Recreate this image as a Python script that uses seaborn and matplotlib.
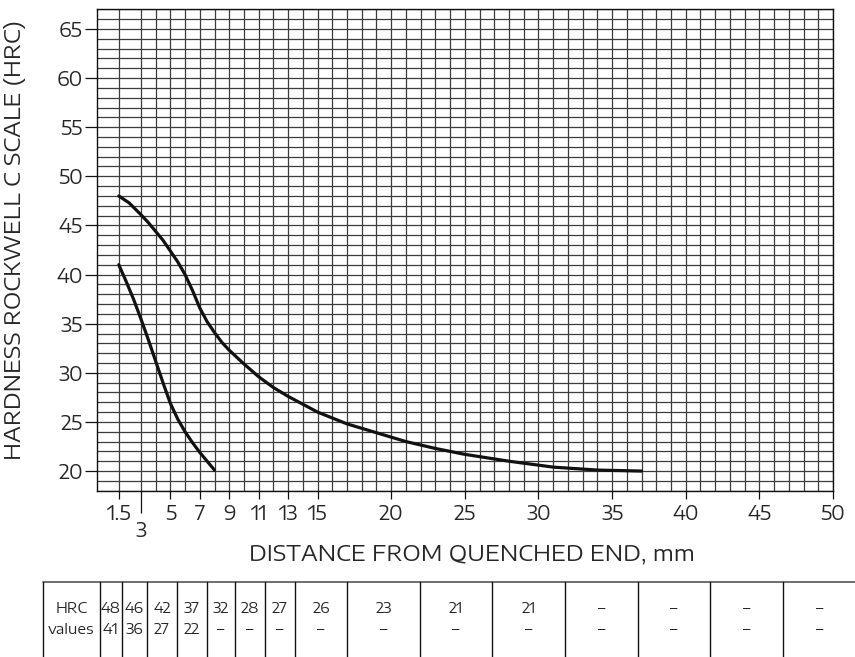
import numpy as np
import pandas as pd
import matplotlib
matplotlib.use("Agg")
import matplotlib.pyplot as plt
import seaborn as sns

# ---------------- data ----------------
upper_dist = [1.5, 2.2, 3, 3.5, 4, 4.5, 5, 5.5, 6, 6.5, 7, 7.5, 8, 8.5, 9, 10, 11, 12, 13, 15, 17, 19, 21, 23, 25, 28, 31, 34, 37]
upper_hrc = [48.0, 47.3, 46.1, 45.3, 44.4, 43.5, 42.4, 41.3, 40.0, 38.4, 36.6, 35.2, 34.1, 33.1, 32.3, 30.9, 29.6, 28.5, 27.6, 26.0, 24.8, 23.9, 23.0, 22.3, 21.7, 21.0, 20.4, 20.1, 20.0]
lower_dist = [1.5, 2.0, 2.5, 3, 3.5, 4, 4.5, 5, 5.5, 6, 6.5, 7, 7.5, 8]
lower_hrc = [41.0, 39.3, 37.5, 35.5, 33.4, 31.2, 29.0, 26.9, 25.3, 24.0, 22.9, 21.9, 21.0, 20.1]

xtick_vals = [1.5, 3, 5, 7, 9, 11, 13, 15, 20, 25, 30, 35, 40, 45, 50]
xtick_labels = ["1.5", "3", "5", "7", "9", "11", "13", "15", "20", "25", "30", "35", "40", "45", "50"]
ytick_vals = [20, 25, 30, 35, 40, 45, 50, 55, 60, 65]

table_max = ["48", "46", "42", "37", "32", "28", "27", "26", "23", "21", "21", "–", "–", "–", "–"]
table_min = ["41", "36", "27", "22", "–", "–", "–", "–", "–", "–", "–", "–", "–", "–", "–"]

# ---------------- style ----------------
sns.set_theme(style="white")
plt.rcParams["font.family"] = ["Encode Sans Expanded", "DejaVu Sans"]
plt.rcParams["font.weight"] = "normal"
TXT = "#262626"
GRID = "#3c3c3c"

W, H = 855, 657
fig = plt.figure(figsize=(W / 100, H / 100), dpi=100)
x0, x1 = 96.7, 833.0
ytop, ybot = 9.3, 490.7
ax = fig.add_axes([x0 / W, 1 - ybot / H, (x1 - x0) / W, (ybot - ytop) / H])

df = pd.concat([
    pd.DataFrame({"dist": upper_dist, "hrc": upper_hrc, "curve": "max"}),
    pd.DataFrame({"dist": lower_dist, "hrc": lower_hrc, "curve": "min"}),
])
sns.lineplot(data=df, x="dist", y="hrc", units="curve", estimator=None, sort=False,
             color="#111111", lw=2.3, ax=ax, zorder=5)
for l in ax.lines:
    l.set_solid_joinstyle("round")

ax.set_xlim(0, 50)
ax.set_ylim(18, 67)

# grid
ax.set_xticks([1.5] + list(range(3, 51)), minor=True)
ax.set_yticks(list(range(18, 68)), minor=True)
ax.set_xticks(xtick_vals)
ax.set_xticklabels(["" if l == "3" else l for l in xtick_labels])
ax.set_yticks(ytick_vals)
ax.set_yticklabels([str(v) for v in ytick_vals])
ax.grid(True, which="both", color=GRID, lw=0.9)
ax.set_axisbelow(True)
ax.tick_params(which="minor", length=0)
ax.tick_params(axis="x", which="major", direction="out", length=5.4, width=0.9, color="#111",
               labelsize=14, labelcolor=TXT, pad=4.5, bottom=True)
ax.tick_params(axis="y", which="major", direction="out", length=8.5, width=0.9, color="#111",
               labelsize=14, labelcolor=TXT, pad=1.5, left=True)
for s in ax.spines.values():
    s.set_color("#111111")
    s.set_linewidth(1.0)

# special long tick at 3 with lowered label
i3 = xtick_labels.index("3")
ax.xaxis.get_major_ticks()[i3].tick1line.set_markersize(16)
ax.text(xtick_vals[i3], -0.062, xtick_labels[i3], transform=ax.get_xaxis_transform(),
        ha="center", va="top", fontsize=14, color=TXT)

ax.set_xlabel("")
ax.set_ylabel("")
fig.text(472 / W, 1 - 554 / H, "DISTANCE FROM QUENCHED END, mm", ha="center", va="center",
         fontsize=16, color=TXT)
fig.text(15 / W, 1 - 240 / H, "HARDNESS ROCKWELL C SCALE (HRC)", ha="center", va="center",
         rotation=90, fontsize=16, color=TXT)

# ---------------- table ----------------
tax = fig.add_axes([0, 0, 1, 1])
tax.set_xlim(0, W)
tax.set_ylim(H, 0)
tax.axis("off")
bounds = [43, 100, 122, 147, 177, 207, 235, 265, 295, 347, 420, 492, 565, 638, 710, 783, 856]
ttop = 581.5
tax.plot([43, W], [ttop, ttop], color="#555555", lw=1.2)
for b in bounds[:-1]:
    tax.plot([b, b], [ttop, H], color="#111111", lw=1.0)
r1, r2 = 609, 630
tfs = 10.5
tax.text((bounds[0] + bounds[1]) / 2, r1, "HRC", ha="center", va="center", fontsize=tfs, color=TXT)
tax.text((bounds[0] + bounds[1]) / 2, r2, "values", ha="center", va="center", fontsize=tfs, color=TXT)
for k in range(len(table_max)):
    cx = (bounds[k + 1] + bounds[k + 2]) / 2
    tax.text(cx, r1, table_max[k], ha="center", va="center", fontsize=tfs, color=TXT)
    tax.text(cx, r2, table_min[k], ha="center", va="center", fontsize=tfs, color=TXT)

fig.savefig("out.png", dpi=100)
